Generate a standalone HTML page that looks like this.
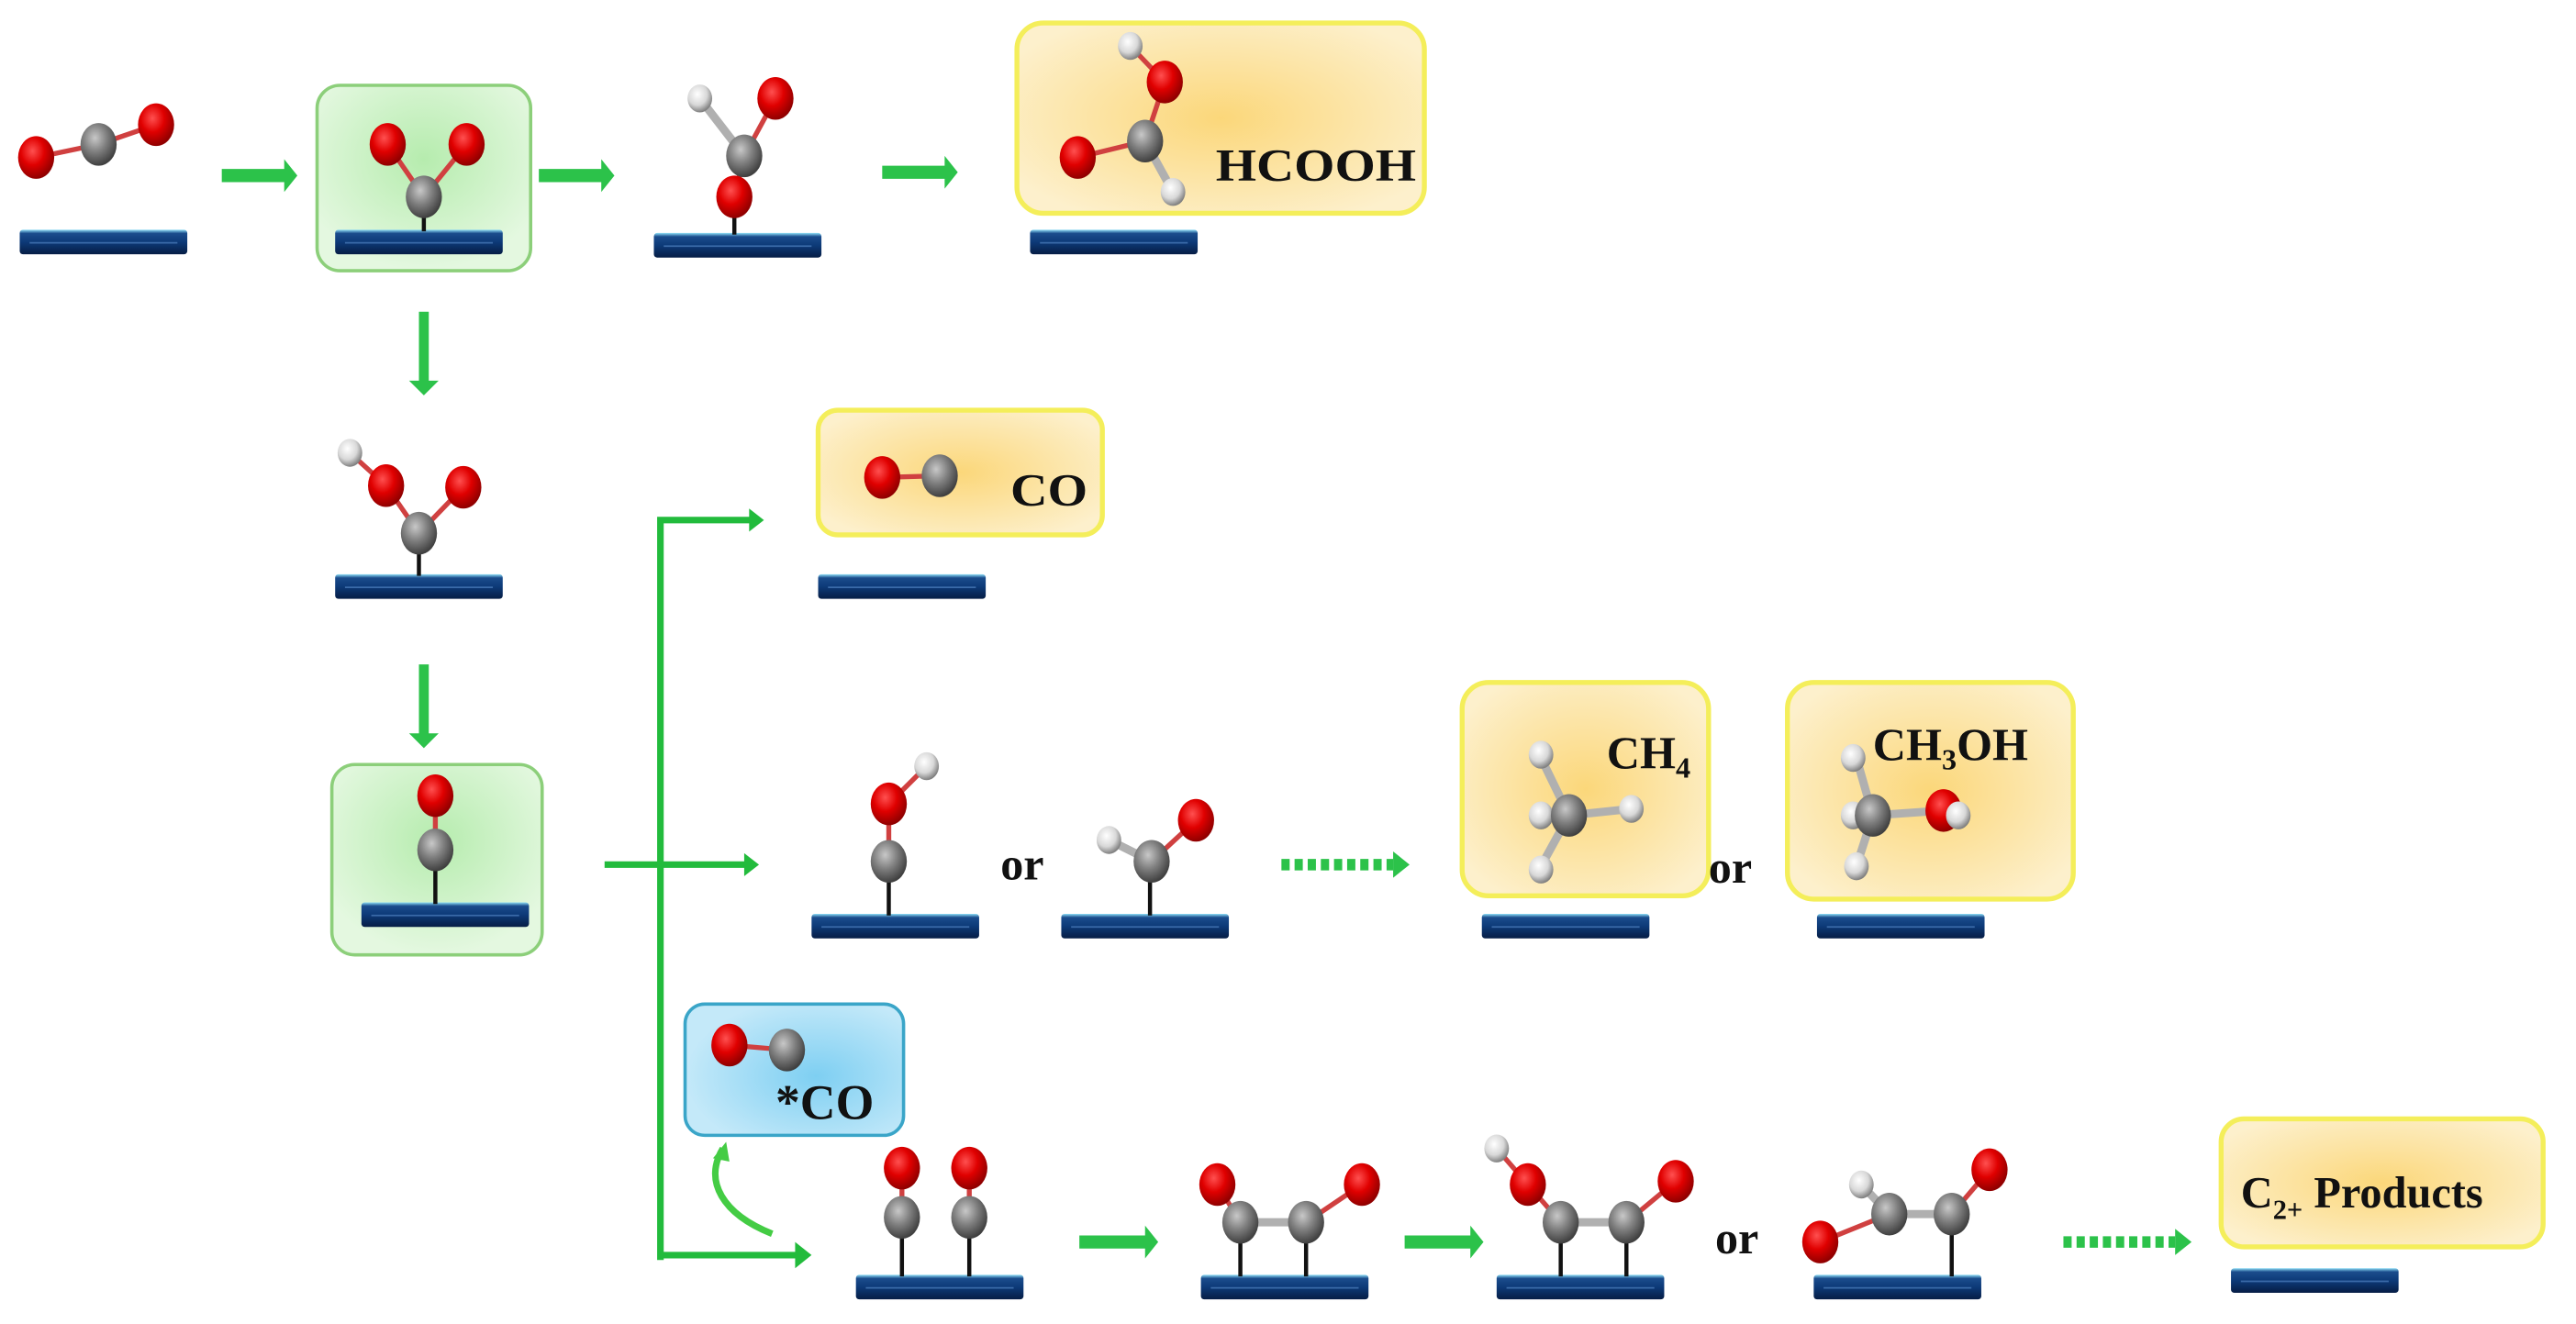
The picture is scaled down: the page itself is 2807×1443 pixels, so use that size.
<!DOCTYPE html>
<html><head><meta charset="utf-8"><style>
html,body{margin:0;padding:0;background:#fff;}
svg{display:block;}
text{font-family:"Liberation Serif",serif;font-weight:bold;fill:#111;}
</style></head><body>
<svg width="2807" height="1443" viewBox="0 0 1568 807" preserveAspectRatio="none" xmlns="http://www.w3.org/2000/svg">
<defs>
<radialGradient id="rO" cx="40%" cy="35%" r="65%"><stop offset="0" stop-color="#ff5050"/><stop offset="0.5" stop-color="#e00000"/><stop offset="1" stop-color="#900000"/></radialGradient>
<radialGradient id="rC" cx="40%" cy="35%" r="65%"><stop offset="0" stop-color="#c8c8c8"/><stop offset="0.5" stop-color="#808080"/><stop offset="1" stop-color="#404040"/></radialGradient>
<radialGradient id="rH" cx="40%" cy="35%" r="65%"><stop offset="0" stop-color="#ffffff"/><stop offset="0.6" stop-color="#d8d8d8"/><stop offset="1" stop-color="#808080"/></radialGradient>
<radialGradient id="yB" cx="50%" cy="50%" r="60%"><stop offset="0" stop-color="#fbd77a"/><stop offset="1" stop-color="#fdf0cc"/></radialGradient>
<radialGradient id="gB" cx="50%" cy="40%" r="60%"><stop offset="0" stop-color="#b6ecae"/><stop offset="1" stop-color="#e4f8e0"/></radialGradient>
<radialGradient id="bB" cx="60%" cy="55%" r="60%"><stop offset="0" stop-color="#7ecff2"/><stop offset="1" stop-color="#c4e9f9"/></radialGradient>
<linearGradient id="bar" x1="0" y1="0" x2="0" y2="1"><stop offset="0" stop-color="#8fe0f8"/><stop offset="0.15" stop-color="#1b4c8c"/><stop offset="0.5" stop-color="#0d3a78"/><stop offset="1" stop-color="#061d45"/></linearGradient>
<g id="O"><ellipse rx="11" ry="13" fill="url(#rO)"/></g>
<g id="C"><ellipse rx="11" ry="13" fill="url(#rC)"/></g>
<g id="H"><ellipse rx="7.5" ry="8.5" fill="url(#rH)"/></g>
<g id="Bar"><rect x="0" y="0" width="102" height="15" rx="2" fill="url(#bar)"/><line x1="6" y1="8" x2="96" y2="8" stroke="#3a6aa8" stroke-width="1"/></g>
</defs>

<rect x="193" y="52" width="130" height="113" rx="14" fill="url(#gB)" stroke="#8ccf7a" stroke-width="2"/>
<rect x="202" y="466" width="128" height="116" rx="14" fill="url(#gB)" stroke="#8ccf7a" stroke-width="2"/>
<rect x="619" y="14" width="248" height="116" rx="16" fill="url(#yB)" stroke="#f4ee5a" stroke-width="3"/>
<rect x="498" y="250" width="173" height="76" rx="12" fill="url(#yB)" stroke="#f4ee5a" stroke-width="3"/>
<rect x="890" y="416" width="150" height="130" rx="16" fill="url(#yB)" stroke="#f4ee5a" stroke-width="3"/>
<rect x="1088" y="416" width="174" height="132" rx="16" fill="url(#yB)" stroke="#f4ee5a" stroke-width="3"/>
<rect x="1352" y="682" width="196" height="78" rx="14" fill="url(#yB)" stroke="#f4ee5a" stroke-width="3"/>
<rect x="417" y="612" width="133" height="80" rx="12" fill="url(#bB)" stroke="#3aa5c8" stroke-width="2"/>

<use href="#Bar" x="12" y="140"/>
<use href="#Bar" x="204" y="140"/>
<use href="#Bar" x="398" y="142"/>
<use href="#Bar" x="627" y="140"/>
<use href="#Bar" x="204" y="350"/>
<use href="#Bar" x="220" y="550"/>
<use href="#Bar" x="498" y="350"/>
<use href="#Bar" x="494" y="557"/>
<use href="#Bar" x="646" y="557"/>
<use href="#Bar" x="902" y="557"/>
<use href="#Bar" x="1106" y="557"/>
<use href="#Bar" x="521" y="777"/>
<use href="#Bar" x="731" y="777"/>
<use href="#Bar" x="911" y="777"/>
<use href="#Bar" x="1104" y="777"/>
<use href="#Bar" x="1358" y="773"/>

<g fill="#2cc24a">
<path d="M135 103h38v-6l8 10l-8 10v-6h-38z"/>
<path d="M328 103h38v-6l8 10l-8 10v-6h-38z"/>
<path d="M537 101h38v-6l8 10l-8 10v-6h-38z"/>
<path d="M657 753h40v-6l8 10l-8 10v-6h-40z"/>
<path d="M855 753h40v-6l8 10l-8 10v-6h-40z"/>
<path d="M255 190v42h-6l9 9l9-9h-6v-42z"/>
<path d="M255 405v42h-6l9 9l9-9h-6v-42z"/>
</g>
<g fill="none" stroke="#22bb3c" stroke-width="4">
<path d="M402 768V317H458"/>
<path d="M368 527H455"/>
<path d="M402 765H486"/>
</g>
<g fill="#22bb3c">
<path d="M456 310l9 7l-9 7z"/>
<path d="M453 520l9 7l-9 7z"/>
<path d="M484 757l10 8l-10 8z"/>
</g>
<path d="M470 752 C440 740 428 720 440 700" fill="none" stroke="#44cc44" stroke-width="4"/>
<path d="M434 706l8-10l2 12z" fill="#44cc44"/>
<g stroke="#2cc24a" stroke-width="7" stroke-dasharray="5 3">
<line x1="780" y1="527" x2="848" y2="527"/>
<line x1="1256" y1="757" x2="1324" y2="757"/>
</g>
<g fill="#2cc24a"><path d="M848 519l10 8l-10 8z"/><path d="M1324 749l10 8l-10 8z"/></g>

<g stroke="#111" stroke-width="2.5">
<line x1="258" y1="130" x2="258" y2="141"/>
<line x1="447" y1="130" x2="447" y2="143"/>
<line x1="255" y1="335" x2="255" y2="351"/>
<line x1="265" y1="528" x2="265" y2="551"/>
<line x1="541" y1="535" x2="541" y2="558"/>
<line x1="700" y1="537" x2="700" y2="558"/>
<line x1="549" y1="750" x2="549" y2="778"/>
<line x1="590" y1="750" x2="590" y2="778"/>
<line x1="755" y1="755" x2="755" y2="778"/>
<line x1="795" y1="755" x2="795" y2="778"/>
<line x1="950" y1="755" x2="950" y2="778"/>
<line x1="990" y1="755" x2="990" y2="778"/>
<line x1="1188" y1="750" x2="1188" y2="778"/>
</g>
<g stroke="#d04040" stroke-width="3">
<line x1="22" y1="96" x2="60" y2="88"/><line x1="60" y1="88" x2="95" y2="76"/>
<line x1="236" y1="88" x2="258" y2="120"/><line x1="284" y1="88" x2="258" y2="120"/>
<line x1="472" y1="60" x2="453" y2="95"/><line x1="453" y1="95" x2="447" y2="120"/>
<line x1="688" y1="28" x2="709" y2="50"/><line x1="709" y1="50" x2="697" y2="86"/><line x1="656" y1="96" x2="697" y2="86"/>
<line x1="213" y1="276" x2="235" y2="296"/><line x1="235" y1="296" x2="255" y2="325"/><line x1="282" y1="297" x2="255" y2="325"/>
<line x1="265" y1="485" x2="265" y2="518"/>
<line x1="537" y1="291" x2="572" y2="290"/>
<line x1="564" y1="467" x2="541" y2="490"/><line x1="541" y1="490" x2="541" y2="525"/>
<line x1="728" y1="500" x2="701" y2="525"/>
<line x1="444" y1="637" x2="479" y2="640"/>
<line x1="549" y1="712" x2="549" y2="742"/><line x1="590" y1="712" x2="590" y2="742"/>
<line x1="741" y1="722" x2="755" y2="745"/><line x1="829" y1="722" x2="795" y2="745"/>
<line x1="911" y1="700" x2="930" y2="722"/><line x1="930" y1="722" x2="950" y2="745"/><line x1="1020" y1="720" x2="990" y2="745"/>
<line x1="1108" y1="757" x2="1150" y2="740"/><line x1="1211" y1="713" x2="1188" y2="740"/>
</g>
<g stroke="#b0b0b0" stroke-width="5">
<line x1="426" y1="60" x2="453" y2="95"/>
<line x1="697" y1="86" x2="714" y2="117"/>
<line x1="675" y1="512" x2="701" y2="525"/>
<line x1="1133" y1="722" x2="1150" y2="740"/>
<line x1="755" y1="745" x2="795" y2="745"/>
<line x1="950" y1="745" x2="990" y2="745"/>
<line x1="1150" y1="740" x2="1188" y2="740"/>
<line x1="955" y1="497" x2="993" y2="493"/>
<line x1="955" y1="497" x2="938" y2="462"/>
<line x1="955" y1="497" x2="938" y2="528"/>
<line x1="1140" y1="497" x2="1183" y2="494"/>
<line x1="1140" y1="497" x2="1130" y2="462"/>
<line x1="1140" y1="497" x2="1130" y2="528"/>
</g>

<use href="#O" x="22" y="96"/><use href="#C" x="60" y="88"/><use href="#O" x="95" y="76"/>
<use href="#O" x="236" y="88"/><use href="#O" x="284" y="88"/><use href="#C" x="258" y="120"/>
<use href="#H" x="426" y="60"/><use href="#O" x="472" y="60"/><use href="#C" x="453" y="95"/><use href="#O" x="447" y="120"/>
<use href="#H" x="688" y="28"/><use href="#O" x="709" y="50"/><use href="#O" x="656" y="96"/><use href="#C" x="697" y="86"/><use href="#H" x="714" y="117"/>
<text x="740" y="110" font-size="28" textLength="122" lengthAdjust="spacingAndGlyphs">HCOOH</text>
<use href="#H" x="213" y="276"/><use href="#O" x="235" y="296"/><use href="#O" x="282" y="297"/><use href="#C" x="255" y="325"/>
<use href="#O" x="265" y="485"/><use href="#C" x="265" y="518"/>
<use href="#O" x="537" y="291"/><use href="#C" x="572" y="290"/>
<text x="615" y="308" font-size="28" textLength="47" lengthAdjust="spacingAndGlyphs">CO</text>
<use href="#H" x="564" y="467"/><use href="#O" x="541" y="490"/><use href="#C" x="541" y="525"/>
<text x="609" y="536" font-size="28">or</text>
<use href="#H" x="675" y="512"/><use href="#O" x="728" y="500"/><use href="#C" x="701" y="525"/>
<use href="#H" x="938" y="460"/><use href="#H" x="938" y="497"/><use href="#C" x="955" y="497"/><use href="#H" x="993" y="493"/><use href="#H" x="938" y="530"/>
<text x="978" y="468" font-size="28">CH<tspan font-size="18" dy="6">4</tspan></text>
<text x="1040" y="538" font-size="28">or</text>
<use href="#H" x="1128" y="462"/><use href="#H" x="1128" y="497"/><use href="#C" x="1140" y="497"/><use href="#O" x="1183" y="494"/><use href="#H" x="1192" y="497"/><use href="#H" x="1130" y="528"/>
<text x="1140" y="463" font-size="28">CH<tspan font-size="18" dy="6">3</tspan><tspan dy="-6">OH</tspan></text>
<use href="#O" x="444" y="637"/><use href="#C" x="479" y="640"/>
<text x="472" y="682" font-size="30" font-weight="normal">*CO</text>
<use href="#O" x="549" y="712"/><use href="#O" x="590" y="712"/><use href="#C" x="549" y="742"/><use href="#C" x="590" y="742"/>
<use href="#O" x="741" y="722"/><use href="#O" x="829" y="722"/><use href="#C" x="755" y="745"/><use href="#C" x="795" y="745"/>
<use href="#H" x="911" y="700"/><use href="#O" x="930" y="722"/><use href="#C" x="950" y="745"/><use href="#C" x="990" y="745"/><use href="#O" x="1020" y="720"/>
<text x="1044" y="764" font-size="28">or</text>
<use href="#O" x="1108" y="757"/><use href="#H" x="1133" y="722"/><use href="#C" x="1150" y="740"/><use href="#C" x="1188" y="740"/><use href="#O" x="1211" y="713"/>
<text x="1364" y="736" font-size="27">C<tspan font-size="17" dy="7">2+</tspan><tspan dy="-7"> Products</tspan></text>
</svg>
</body></html>
